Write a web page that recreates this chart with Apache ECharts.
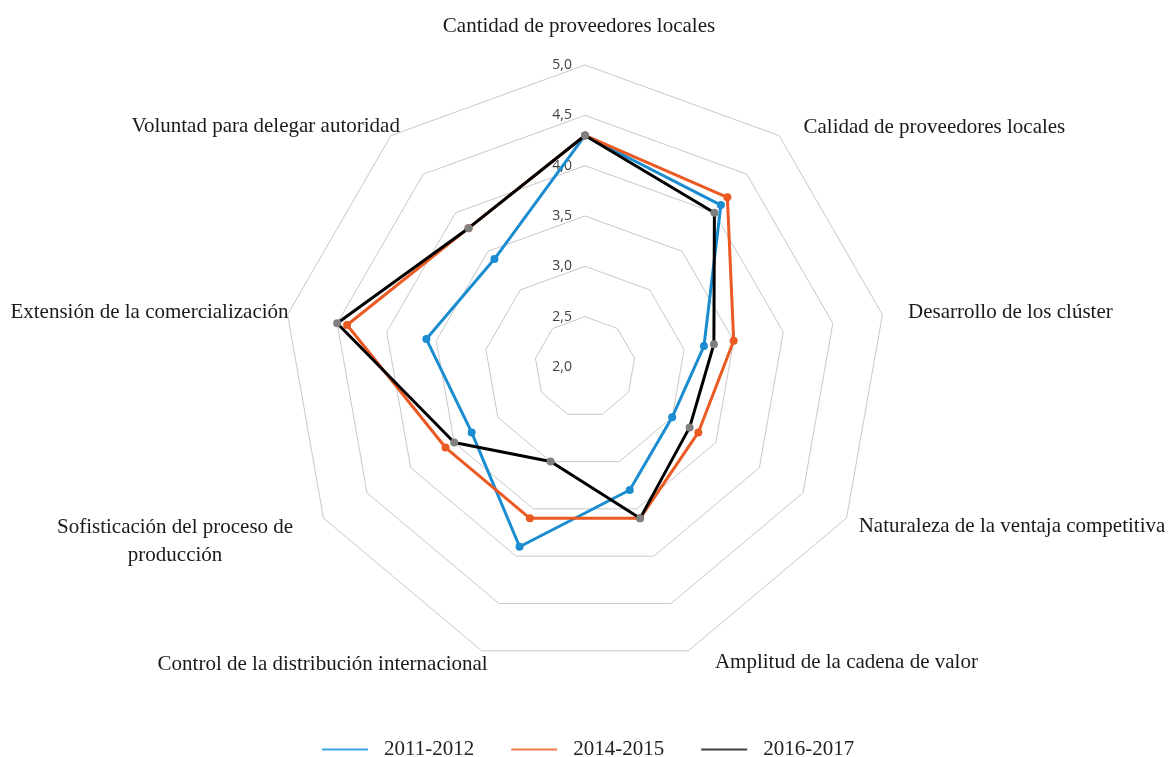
<!DOCTYPE html>
<html>
<head>
<meta charset="utf-8">
<script src="https://cdn.jsdelivr.net/npm/echarts@6/dist/echarts.min.js"></script>
<style>
  html, body { margin: 0; padding: 0; background: #fff; }
  #main { width: 1168px; height: 757px; }
</style>
</head>
<body>
<div id="main"></div>
<script>
// indicators listed clockwise starting at the top
var indicatorNames = [
    'Cantidad de proveedores locales',
    'Calidad de proveedores locales',
    'Desarrollo de los clúster',
    'Naturaleza de la ventaja competitiva',
    'Amplitud de la cadena de valor',
    'Control de la distribución internacional',
    'Sofisticación del proceso de\nproducción',
    'Extensión de la comercialización',
    'Voluntad para delegar autoridad'
];
var seriesNames = ['2011-2012', '2014-2015', '2016-2017'];
var values2011 = [4.3, 4.1, 3.2, 3.0, 3.3, 3.9, 3.3, 3.6, 3.4];
var values2014 = [4.3, 4.2, 3.5, 3.3, 3.6, 3.6, 3.6, 4.4, 3.8];
var values2016 = [4.3, 4.0, 3.3, 3.2, 3.6, 3.0, 3.5, 4.5, 3.8];
var scaleMin = 2;
var scaleMax = 5;

window.onload = function () {
    var myChart = echarts.init(document.getElementById('main'));

    // label placement tweaks (clockwise order), excel puts them a bit off-axis
    var nameGaps = [24.5, 13, 23, 14, 10.6, -17.5, 35, -1, -14];
    var namePaddings = [
        [0, 12, 0, 0], [3, 0, 0, 16], [4, 0, 0, 3], [2, 0, 0, 0], [4, 0, 0, 23],
        [61, 0, 0, 0], [11, 0, 0, 0], [0, 0, 4, 0], [0, 0, 39, 0]
    ];

    // echarts draws radar axes counter-clockwise, so keep the first one and reverse the rest
    function toCounterClockwise(arr) {
        return [arr[0]].concat(arr.slice(1).reverse());
    }

    var ccwNames = toCounterClockwise(indicatorNames);
    var ccwGaps = toCounterClockwise(nameGaps);

    var indicators = ccwNames.map(function (name, i) {
        var item = { name: name, min: scaleMin, max: scaleMax, nameGap: ccwGaps[i] };
        if (i === 0) {
            item.axisLabel = { show: true };
        }
        return item;
    });

    var rich = {};
    indicatorNames.forEach(function (name, i) {
        rich['n' + i] = {
            fontFamily: 'Liberation Serif',
            fontSize: 21,
            lineHeight: 28,
            color: '#1a1a1a',
            align: 'center',
            padding: namePaddings[i]
        };
    });

    var colors = ['#1a8ccf', '#ea5a22', '#000000'];
    var markerColors = ['#1a8ccf', '#ea5a22', '#7f7f7f'];
    var legendColors = ['#3aa6e0', '#f07a45', '#404040'];
    var allValues = [values2011, values2014, values2016];

    var option = {
        animation: false,
        legend: {
            top: 734,
            left: 317,
            icon: 'rect',
            itemWidth: 46,
            itemHeight: 2,
            itemGap: 37,
            textStyle: {
                fontFamily: 'Liberation Serif',
                fontSize: 21,
                color: '#222',
                padding: [0, 0, 0, 11]
            },
            data: seriesNames.map(function (name, i) {
                return { name: name, itemStyle: { color: legendColors[i] } };
            })
        },
        radar: {
            center: [585, 367],
            radius: 302,
            startAngle: 90,
            splitNumber: 6,
            shape: 'polygon',
            axisName: {
                color: '#1a1a1a',
                fontFamily: 'Liberation Serif',
                fontSize: 21,
                formatter: function (name) {
                    var idx = indicatorNames.indexOf(name);
                    return '{n' + idx + '|' + name + '}';
                },
                rich: rich
            },
            axisLine: { show: false },
            axisTick: { show: false },
            splitArea: { show: false },
            splitLine: { lineStyle: { color: '#c8c8c8', width: 1 } },
            axisLabel: {
                show: false,
                margin: 13,
                color: '#404040',
                fontFamily: 'Open Sans',
                fontSize: 14,
                formatter: function (v) {
                    return v.toFixed(1).replace('.', ',');
                }
            },
            indicator: indicators
        },
        series: seriesNames.map(function (name, i) {
            return {
                name: name,
                type: 'radar',
                symbol: 'circle',
                symbolSize: 8,
                z: 2 + i,
                lineStyle: { color: colors[i], width: 3 },
                itemStyle: { color: markerColors[i] },
                data: [{ name: name, value: toCounterClockwise(allValues[i]) }]
            };
        })
    };

    myChart.setOption(option);
};
</script>
</body>
</html>
